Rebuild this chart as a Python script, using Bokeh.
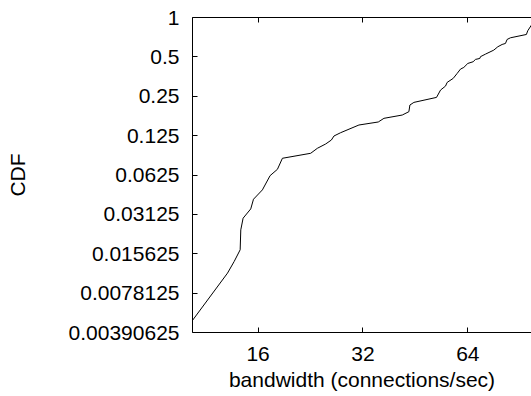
from bokeh.plotting import figure
from bokeh.models import FixedTicker, CustomJSTickFormatter, LogAxis
from bokeh.embed import file_html
from bokeh.resources import INLINE

# bandwidth (connections/sec) and CDF values
bandwidth = [10.37, 13.07, 13.66, 14.21, 14.27, 14.49, 15.24, 15.52, 16.46, 17.32,
             18.18, 18.79, 22.65, 23.67, 25.01, 25.97, 26.42, 27.61, 31.16, 35.41,
             36.76, 41.49, 43.35, 43.64, 44.81, 52.04, 53.44, 55.23, 55.84, 58.09,
             59.65, 60.98, 62.33, 64.00, 66.29, 67.32, 69.28, 69.58, 71.92, 75.99,
             78.02, 80.28, 82.07, 82.98, 84.81, 94.27, 95.10, 97.42, 99.5]
cdf = [0.004837, 0.01111, 0.01364, 0.01675, 0.0238, 0.02922, 0.0344, 0.0408, 0.0481, 0.0618,
       0.0691, 0.0839, 0.0916, 0.1000, 0.1079, 0.1157, 0.1242, 0.1316, 0.1507, 0.1589,
       0.1695, 0.1796, 0.1905, 0.2142, 0.2244, 0.2450, 0.2787, 0.2991, 0.3191, 0.3422,
       0.3737, 0.4033, 0.4153, 0.4455, 0.4589, 0.4780, 0.4864, 0.5017, 0.5248, 0.5631,
       0.5971, 0.6221, 0.6332, 0.6794, 0.6995, 0.7417, 0.7911, 0.8738, 1.0]

x_ticks = [16, 32, 64]
x_tick_labels = ["16", "32", "64"]
y_ticks = [1, 0.5, 0.25, 0.125, 0.0625, 0.03125, 0.015625, 0.0078125, 0.00390625]
y_tick_labels = ["1", "0.5", "0.25", "0.125", "0.0625", "0.03125", "0.015625",
                 "0.0078125", "0.00390625"]

x_start, x_end = 10.37, 97.5
y_start, y_end = 0.00390625, 1.0

FONT = "Liberation Sans"
FS = "21px"

p = figure(width=531, height=396, x_axis_type="log", y_axis_type="log",
           x_range=(x_start, x_end), y_range=(y_start, y_end),
           output_backend="svg", toolbar_location=None,
           min_border_left=192, min_border_top=17, min_border_bottom=64,
           min_border_right=0)
p.outline_line_color = None
p.xgrid.visible = False
p.ygrid.visible = False
p.background_fill_color = "white"
p.border_fill_color = "white"

p.line(bandwidth, cdf, line_color="black", line_width=1)

def fmt(vals, labels):
    return CustomJSTickFormatter(args=dict(tvals=vals, tlabels=labels),
                                 code="const i = tvals.indexOf(tick); return i >= 0 ? tlabels[i] : '';")

xa = p.xaxis[0]
xa.ticker = FixedTicker(ticks=x_ticks)
xa.formatter = fmt(x_ticks, x_tick_labels)
xa.axis_label = "bandwidth (connections/sec)"

ya = p.yaxis[0]
ya.ticker = FixedTicker(ticks=y_ticks)
ya.formatter = fmt(y_ticks, y_tick_labels)
ya.axis_label = "CDF"

top = LogAxis(ticker=FixedTicker(ticks=x_ticks),
              formatter=CustomJSTickFormatter(code="return '';"))
p.add_layout(top, "above")

for ax in (xa, ya, top):
    ax.axis_line_color = "black"
    ax.axis_line_width = 1
    ax.major_tick_in = 5
    ax.major_tick_out = 0
    ax.major_tick_line_color = "black"
    ax.minor_tick_line_color = None
    ax.major_label_text_font = FONT
    ax.major_label_text_font_size = FS
    ax.major_label_text_color = "black"
    ax.axis_label_text_font = FONT
    ax.axis_label_text_font_size = FS
    ax.axis_label_text_font_style = "normal"
    ax.axis_label_text_color = "black"

top.major_label_standoff = 0
xa.major_label_standoff = 14
xa.axis_label_standoff = 4
ya.major_label_standoff = 13
ya.axis_label_standoff = 37

open("out.html", "w").write(file_html(p, INLINE))
